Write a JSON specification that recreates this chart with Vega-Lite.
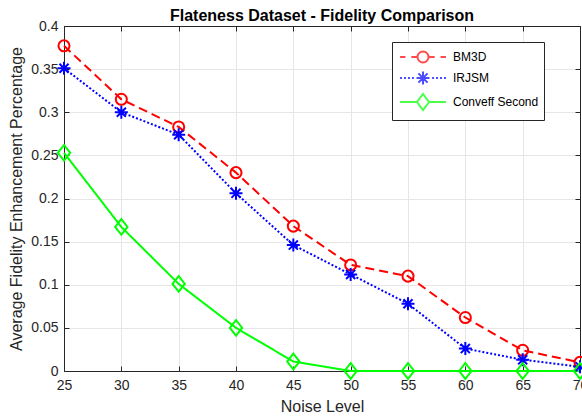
{
  "$schema": "https://vega.github.io/schema/vega-lite/v6.json",
  "autosize": "none",
  "width": 516,
  "height": 345,
  "padding": {"left": 64, "top": 26, "right": 2, "bottom": 48},
  "background": "white",
  "title": {"text": "Flateness Dataset - Fidelity Comparison", "font": "Liberation Sans", "fontSize": 16, "fontWeight": "bold", "color": "black", "offset": -5},
  "data": {"values": [
    {"noise": 25, "method": "BM3D", "value": 0.377},
    {"noise": 30, "method": "BM3D", "value": 0.315},
    {"noise": 35, "method": "BM3D", "value": 0.283},
    {"noise": 40, "method": "BM3D", "value": 0.230},
    {"noise": 45, "method": "BM3D", "value": 0.168},
    {"noise": 50, "method": "BM3D", "value": 0.123},
    {"noise": 55, "method": "BM3D", "value": 0.110},
    {"noise": 60, "method": "BM3D", "value": 0.062},
    {"noise": 65, "method": "BM3D", "value": 0.024},
    {"noise": 70, "method": "BM3D", "value": 0.010},
    {"noise": 25, "method": "IRJSM", "value": 0.351},
    {"noise": 30, "method": "IRJSM", "value": 0.300},
    {"noise": 35, "method": "IRJSM", "value": 0.274},
    {"noise": 40, "method": "IRJSM", "value": 0.206},
    {"noise": 45, "method": "IRJSM", "value": 0.146},
    {"noise": 50, "method": "IRJSM", "value": 0.112},
    {"noise": 55, "method": "IRJSM", "value": 0.078},
    {"noise": 60, "method": "IRJSM", "value": 0.026},
    {"noise": 65, "method": "IRJSM", "value": 0.013},
    {"noise": 70, "method": "IRJSM", "value": 0.005},
    {"noise": 25, "method": "Conveff Second", "value": 0.253},
    {"noise": 30, "method": "Conveff Second", "value": 0.167},
    {"noise": 35, "method": "Conveff Second", "value": 0.101},
    {"noise": 40, "method": "Conveff Second", "value": 0.050},
    {"noise": 45, "method": "Conveff Second", "value": 0.011},
    {"noise": 50, "method": "Conveff Second", "value": 0},
    {"noise": 55, "method": "Conveff Second", "value": 0},
    {"noise": 60, "method": "Conveff Second", "value": 0},
    {"noise": 65, "method": "Conveff Second", "value": 0},
    {"noise": 70, "method": "Conveff Second", "value": 0}
  ]},
  "layer": [
    {
      "mark": {"type": "line", "strokeWidth": 2},
      "encoding": {
        "x": {"field": "noise", "type": "quantitative", "scale": {"domain": [25, 70], "nice": false, "zero": false},
              "axis": {"title": "Noise Level", "values": [25,30,35,40,45,50,55,60,65,70], "grid": true, "labelFlush": false, "labelPadding": 12, "titlePadding": 6}},
        "y": {"field": "value", "type": "quantitative", "scale": {"domain": [0, 0.4], "nice": false},
              "axis": {"title": "Average Fidelity Enhancement Percentage", "values": [0,0.05,0.1,0.15,0.2,0.25,0.3,0.35,0.4], "format": "~g", "grid": true, "labelFlush": false, "labelPadding": 11, "titlePadding": 6}},
        "color": {"field": "method", "type": "nominal", "scale": {"domain": ["BM3D", "IRJSM", "Conveff Second"], "range": ["#ff0000", "#0000ff", "#00ff00"]}, "legend": null},
        "strokeDash": {"field": "method", "type": "nominal", "scale": {"domain": ["BM3D", "IRJSM", "Conveff Second"], "range": [[9,5],[2,2],[1,0]]}, "legend": null}
      }
    },
    {
      "mark": {"type": "point", "filled": false, "strokeWidth": 2, "size": 169, "opacity": 1},
      "encoding": {
        "x": {"field": "noise", "type": "quantitative", "axis": {"orient": "top", "title": null, "labels": false, "grid": false, "values": [25,30,35,40,45,50,55,60,65,70]}},
        "y": {"field": "value", "type": "quantitative", "axis": {"orient": "right", "title": null, "labels": false, "grid": false, "values": [0,0.05,0.1,0.15,0.2,0.25,0.3,0.35,0.4]}},
        "color": {"field": "method", "type": "nominal", "legend": null},
        "shape": {"field": "method", "type": "nominal", "legend": null, "scale": {"domain": ["BM3D", "IRJSM", "Conveff Second"], "range": [
          "M0.85,0A0.85,0.85 0 1 1 -0.85,0A0.85,0.85 0 1 1 0.85,0Z",
          "M-1,0H1M0,-1V1M-0.7,-0.7L0.7,0.7M-0.7,0.7L0.7,-0.7",
          "M0,-1.2L0.95,0L0,1.2L-0.95,0Z"
        ]}}
      }
    },
    {
      "transform": [{"filter": "datum.value > 1"}],
      "mark": {"type": "point", "filled": false, "strokeWidth": 2},
      "encoding": {
        "x": {"field": "noise", "type": "quantitative", "axis": null},
        "y": {"field": "value", "type": "quantitative", "axis": null},
        "color": {"field": "method", "type": "nominal", "legend": {"title": null}},
        "shape": {"field": "method", "type": "nominal", "legend": {"title": null}, "scale": {"domain": ["BM3D", "IRJSM", "Conveff Second"], "range": [
          "M-2.55,0H-1.95M-1.3,0H-0.61M0.61,0H1.3M1.95,0H2.55M0.61,0A0.61,0.61 0 1 1 -0.61,0A0.61,0.61 0 1 1 0.61,0Z",
          "M-2.55,0h0.22M-2.11,0h0.22M-1.67,0h0.22M-1.23,0h0.22M1.01,0h0.22M1.45,0h0.22M1.89,0h0.22M2.33,0h0.22M-0.72,0H0.72M0,-0.72V0.72M-0.51,-0.51L0.51,0.51M-0.51,0.51L0.51,-0.51",
          "M-2.55,0H-0.67M0.67,0H2.55M0,-0.89L0.67,0L0,0.89L-0.67,0Z"
        ]}}
      }
    }
  ],
  "resolve": {
    "axis": {"x": "independent", "y": "independent"},
    "scale": {"shape": "independent"},
    "legend": {"color": "independent", "shape": "independent"}
  },
  "config": {
    "view": {"stroke": "#262626", "strokeWidth": 1},
    "axis": {
      "labelFont": "Liberation Sans", "labelFontSize": 14, "labelColor": "#262626",
      "titleFont": "Liberation Sans", "titleFontSize": 16, "titleFontWeight": "normal", "titleColor": "#262626",
      "domainColor": "#262626", "tickColor": "#262626", "tickSize": -5, "gridColor": "#e6e6e6", "gridWidth": 1
    },
    "legend": {
      "orient": "none", "legendX": 328, "legendY": 16, "direction": "vertical",
      "symbolSize": 324, "symbolStrokeWidth": 2, "symbolOffset": 16, "labelOffset": 20,
      "labelFont": "Liberation Sans", "labelFontSize": 12, "labelColor": "black",
      "strokeColor": "#262626", "fillColor": "white", "padding": 5, "rowPadding": 0
    }
  }
}
